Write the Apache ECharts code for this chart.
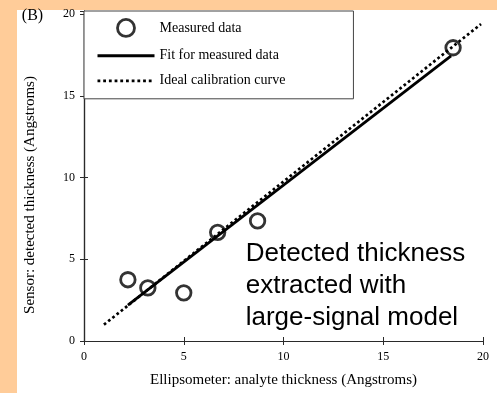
<!DOCTYPE html>
<html>
<head>
<meta charset="utf-8">
<title>Detected vs analyte thickness</title>
<script src="https://cdn.jsdelivr.net/npm/echarts@6/dist/echarts.min.js"></script>
<style>
  html, body { margin: 0; padding: 0; background: #FFCC99; }
  #panel { position: absolute; left: 17px; top: 10px; width: 480px; height: 383px; background: #ffffff; }
  #chart { position: absolute; left: 0; top: 0; width: 497px; height: 393px; }
</style>
</head>
<body>
<div id="panel"></div>
<div id="chart"></div>
<script>
// Measured points: ellipsometer thickness (x) vs sensor-detected thickness (y), in Angstroms
const measuredX = [2.2, 3.2, 5.0, 6.7, 8.7, 18.5];
const measuredY = [3.75, 3.25, 2.95, 6.65, 7.35, 17.95];

// Linear fit through the measured data (end points)
const fitX = [2.2, 18.4];
const fitY = [2.2, 17.45];

// Ideal calibration curve (end points)
const idealX = [1.0, 19.9];
const idealY = [1.0, 19.4];

const xTicks = [0, 5, 10, 15, 20];
const yTicks = [0, 5, 10, 15, 20];

const seriesNames = ['Measured data', 'Fit for measured data', 'Ideal calibration curve'];
const noteLines = ['Detected thickness', 'extracted with', 'large-signal model'];

const zip = (xs, ys) => xs.map((x, i) => [x, ys[i]]);

const serif = 'Liberation Serif';
const axisColor = '#2a2a2a';
const hiddenSymbol = { color: 'transparent', borderColor: 'transparent', borderWidth: 0 };

const chart = echarts.init(document.getElementById('chart'), null, { renderer: 'canvas' });

const baseX = {
  type: 'value', min: xTicks[0], max: xTicks[xTicks.length - 1], interval: 5,
  splitLine: { show: false },
  axisLine: { lineStyle: { color: axisColor, width: 1.2 } },
  axisTick: { inside: true, length: 4, lineStyle: { color: axisColor } }
};
const baseY = {
  type: 'value', min: yTicks[0], max: 20.2, interval: 5,
  splitLine: { show: false },
  axisLine: { show: true, lineStyle: { color: axisColor, width: 1.2 } },
  axisTick: { show: true, inside: true, length: 4, lineStyle: { color: axisColor } }
};
const tickLabel = (v) => (yTicks.indexOf(v) >= 0 ? String(v) : '');

chart.setOption({
  animation: false,
  backgroundColor: 'transparent',
  color: ['#000', '#000', '#000'],
  grid: { left: 84, right: 14, top: 11, bottom: 49 },
  xAxis: [
    Object.assign({}, baseX, {
      position: 'bottom',
      axisLabel: { color: '#000', fontFamily: serif, fontSize: 12, margin: 10 },
      name: 'Ellipsometer: analyte thickness (Angstroms)',
      nameLocation: 'middle', nameGap: 32,
      nameTextStyle: { color: '#000', fontFamily: serif, fontSize: 15 }
    }),
    Object.assign({}, baseX, { position: 'top', axisLabel: { show: false } })
  ],
  yAxis: [
    Object.assign({}, baseY, {
      position: 'left',
      axisLabel: { color: '#000', fontFamily: serif, fontSize: 12, margin: 9, formatter: tickLabel },
      name: 'Sensor: detected thickness (Angstroms)',
      nameLocation: 'middle', nameGap: 46,
      nameTextStyle: { color: '#000', fontFamily: serif, fontSize: 15, padding: [0, 38, 0, 0] }
    }),
    Object.assign({}, baseY, { position: 'right', axisLabel: { show: false } })
  ],
  legend: {
    orient: 'vertical', left: 84, top: 11,
    padding: [7, 68, 11, 12], itemGap: 11,
    itemWidth: 57, itemHeight: 17,
    backgroundColor: '#fff', borderColor: '#444', borderWidth: 1,
    textStyle: { color: '#000', fontFamily: serif, fontSize: 14 },
    selectedMode: false,
    data: [
      { name: seriesNames[0], itemStyle: { color: 'transparent', borderColor: '#000', borderWidth: 2.8 } },
      { name: seriesNames[1], itemStyle: hiddenSymbol, lineStyle: { width: 3, color: '#000' } },
      { name: seriesNames[2], itemStyle: hiddenSymbol, lineStyle: { width: 2.8, color: '#000', type: [2.8, 2.9] } }
    ]
  },
  series: [
    {
      name: seriesNames[2], type: 'line', symbol: 'none', z: 2,
      data: zip(idealX, idealY),
      itemStyle: hiddenSymbol,
      lineStyle: { color: '#000', width: 2.7, type: [2.7, 2.7] }
    },
    {
      name: seriesNames[1], type: 'line', symbol: 'none', z: 3,
      data: zip(fitX, fitY),
      itemStyle: hiddenSymbol,
      lineStyle: { color: '#000', width: 2.8 }
    },
    {
      name: seriesNames[0], type: 'scatter', z: 4,
      symbol: 'circle', symbolSize: 14.5,
      data: zip(measuredX, measuredY),
      itemStyle: { color: 'transparent', borderColor: '#000', borderWidth: 2.8 }
    }
  ],
  graphic: [
    {
      type: 'text', x: 32.5, y: 16,
      style: { text: '(B)', fill: '#000', font: '16px "Liberation Serif"', textAlign: 'center', textVerticalAlign: 'middle' }
    },
    {
      type: 'text', x: 245.7, y: 238,
      style: {
        text: noteLines.join('\n'), fill: '#000',
        font: '26px "Liberation Sans"', lineHeight: 32,
        textAlign: 'left', textVerticalAlign: 'top'
      }
    }
  ]
});
</script>
</body>
</html>
